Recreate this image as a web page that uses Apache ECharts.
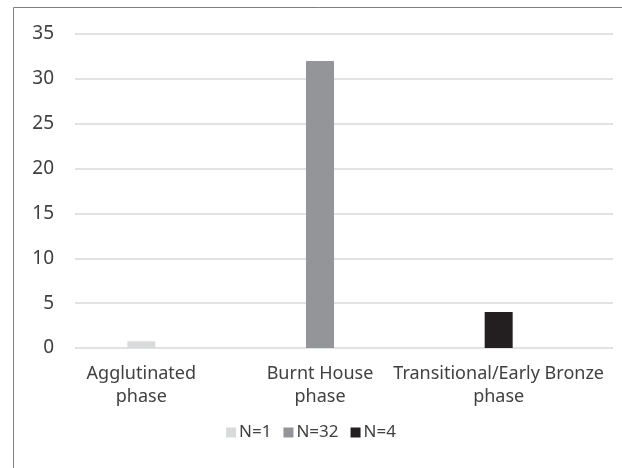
<!DOCTYPE html>
<html>
<head>
<meta charset="utf-8">
<script src="https://cdn.jsdelivr.net/npm/echarts@6/dist/echarts.min.js"></script>
<style>
  html, body { margin: 0; padding: 0; background: #ffffff; }
  #chart { width: 622px; height: 468px; }
</style>
</head>
<body>
<div id="chart"></div>
<script>
// Phases on the x axis, one bar per phase
const categories = ['Agglutinated\nphase', 'Burnt House\nphase', 'Transitional/Early Bronze\nphase'];
const seriesNames = ['N=1', 'N=32', 'N=4'];
const agglutinatedValues = [0.75, '-', '-'];
const burntHouseValues = ['-', 32, '-'];
const transitionalValues = ['-', '-', 4];
const yTicks = [0, 5, 10, 15, 20, 25, 30, 35];

const colors = ['#d9dadc', '#939598', '#231f20'];
const textColor = '#404040';
const font = 'Noto Sans';

const chart = echarts.init(document.getElementById('chart'), null, { renderer: 'canvas' });

const yMin = yTicks[0];
const yMax = yTicks[yTicks.length - 1];
const yStep = yTicks[1] - yTicks[0];

const seriesValues = [agglutinatedValues, burntHouseValues, transitionalValues];

chart.setOption({
  backgroundColor: '#ffffff',
  animation: false,
  graphic: [{
    type: 'rect',
    shape: { x: 13.5, y: 7.5, width: 700, height: 600 },
    style: { fill: 'none', stroke: '#7f7f7f', lineWidth: 1 },
    silent: true
  }],
  legend: {
    data: seriesNames,
    bottom: 22,
    left: 'center',
    itemWidth: 10,
    itemHeight: 10,
    itemGap: 12,
    icon: 'rect',
    textStyle: { color: textColor, fontFamily: font, fontSize: 17, padding: [0, 0, 0, -2] }
  },
  grid: [
    // value axis with gridlines
    { left: 75, right: 9, top: 34, bottom: 120, containLabel: false },
    // category band for the bars
    { left: 52, right: 34, top: 34, bottom: 120, containLabel: false }
  ],
  xAxis: [
    { type: 'category', gridIndex: 0, data: categories, show: false },
    {
      type: 'category', gridIndex: 1, data: categories,
      axisLine: { show: false }, axisTick: { show: false },
      axisLabel: {
        color: textColor, fontFamily: font, fontSize: 18, lineHeight: 23,
        margin: 14, interval: 0
      }
    }
  ],
  yAxis: [
    {
      type: 'value', gridIndex: 0, min: yMin, max: yMax, interval: yStep,
      axisLine: { show: false }, axisTick: { show: false },
      axisLabel: { color: textColor, fontFamily: font, fontSize: 19, margin: 21 },
      splitLine: { lineStyle: { color: '#d9d9d9', width: 1.5 } }
    },
    { type: 'value', gridIndex: 1, min: yMin, max: yMax, interval: yStep, show: false }
  ],
  series: seriesNames.map((name, i) => ({
    name: name,
    type: 'bar',
    xAxisIndex: 1,
    yAxisIndex: 1,
    stack: 'phase',
    barWidth: 28,
    itemStyle: { color: colors[i] },
    data: seriesValues[i]
  }))
});
</script>
</body>
</html>
